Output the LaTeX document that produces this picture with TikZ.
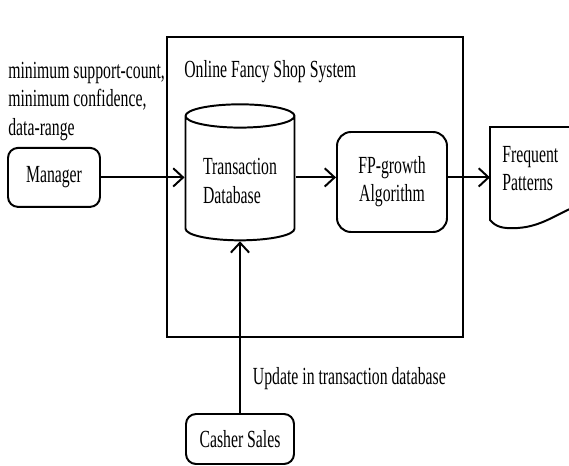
\documentclass[tikz,border=0pt]{standalone}
\usepackage{fontspec}
\setmainfont{Liberation Serif}[FakeStretch=0.64]
\usetikzlibrary{arrows.meta, positioning, shapes.geometric}

\begin{document}
\begin{tikzpicture}[
  font=\fontsize{17.5pt}{20pt}\selectfont,
  actor/.style={rectangle, rounded corners=0.25cm, draw, line width=1.4pt,
                minimum width=2.3cm, minimum height=1.475cm},
  store/.style={cylinder, shape border rotate=90, aspect=0.28, draw, line width=1.4pt,
                minimum width=2.725cm, minimum height=3.4cm, align=left},
  proc/.style={rectangle, rounded corners=0.35cm, draw, line width=1.4pt,
               minimum width=2.75cm, minimum height=2.5cm, align=center},
  plain/.style={inner sep=0pt, align=left},
  flow/.style={-{Straight Barb[length=7pt, width=13pt, line width=1.4pt]}, line width=1.4pt},
]
\clip (0,0) rectangle (14.225,11.625);
\node[draw, line width=1.1pt, minimum width=7.4cm, minimum height=7.5cm] (sys) at (7.875,6.95) {};
\node[plain, anchor=west] (title) at (4.6,9.825) {Online Fancy Shop System};
\node[plain, anchor=west] (params) at (0.2,9.09) {minimum support-count,\\minimum confidence,\\data-range};
\node[actor] (mgr) at (1.35,7.19) {Manager};
\node[store] (db) at (6.0,7.1) {Transaction\\Database};
\node[proc] (fp) at (9.8,7.075) {FP-growth\\Algorithm};
\node[plain, inner xsep=0.3cm, anchor=west] (freq) at (12.25,7.4) {Frequent\\Patterns};
\node[actor, minimum width=2.7cm, minimum height=1.25cm] (cash) at (6.0,0.65) {Casher Sales};
% document outline
\draw[line width=1.4pt] (12.25,6.125) -- (12.25,8.45) -- (14.6,8.45) -- (14.6,6.55)
  to[out=200,in=0] (12.8,5.92) to[out=180,in=-50] cycle;
\draw[flow] (mgr.east) -- (mgr.east -| db.west);
\draw[flow] (mgr.east -| db.east) -- (mgr.east -| fp.west);
\draw[flow] (mgr.east -| fp.east) -- (mgr.east -| freq.west);
\draw[flow] (cash.north) -- (db.south)
  node[pos=0.2, plain, anchor=west, xshift=0.3cm] {Update in transaction database};
\end{tikzpicture}
\end{document}
